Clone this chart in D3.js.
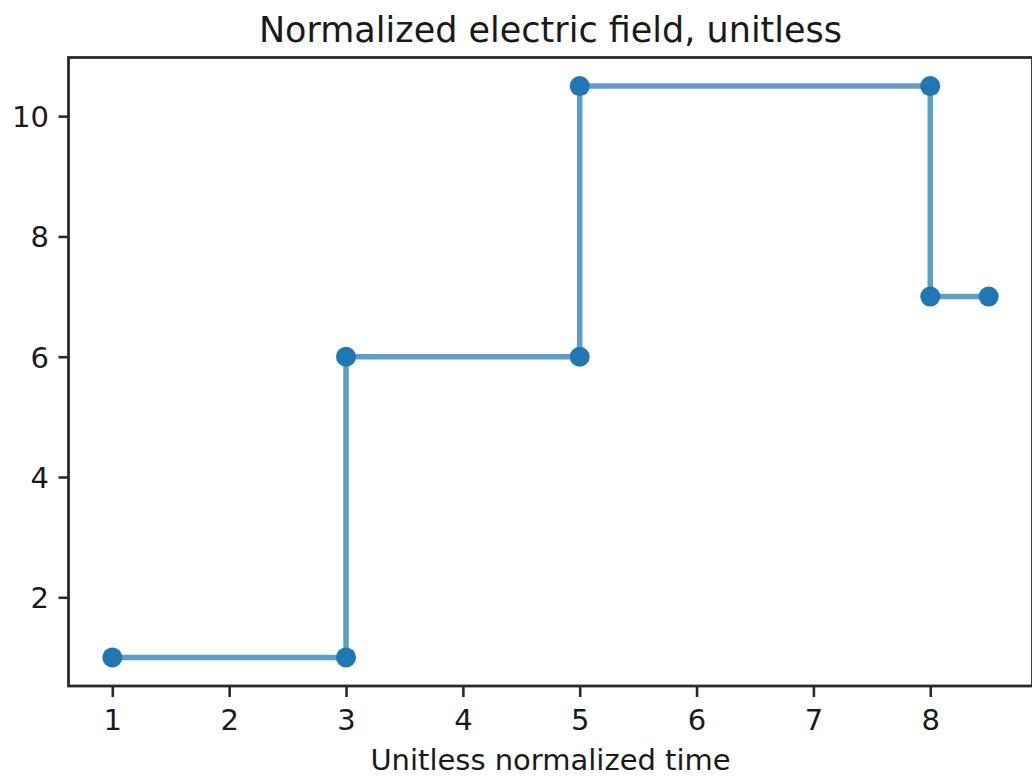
<!DOCTYPE html>
<html>
<head>
<meta charset="utf-8">
<script src="https://cdn.jsdelivr.net/npm/d3@7"></script>
<style>
  html, body { margin: 0; padding: 0; background: #fff; }
  svg { display: block; font-family: "DejaVu Sans", sans-serif; }
</style>
</head>
<body>
<svg id="chart" width="1032" height="776"></svg>
<script>
// Data
const xValues = [1, 3, 3, 5, 5, 8, 8, 8.5];
const yValues = [1, 1, 6, 6, 10.5, 10.5, 7, 7];
const xTicks = [1, 2, 3, 4, 5, 6, 7, 8];
const yTicks = [2, 4, 6, 8, 10];
const titleText = "Normalized electric field, unitless";
const xLabelText = "Unitless normalized time";

(function () {
const svg = d3.select("#chart");
const mLeft = 68.5, mRight = 1032.5, mTop = 57.5, mBottom = 686;

const x = d3.scaleLinear().domain([0.625, 8.875]).range([mLeft, mRight]);
const y = d3.scaleLinear().domain([0.525, 10.975]).range([mBottom, mTop]);

const data = xValues.map((v, i) => ({ x: v, y: yValues[i] }));

// line
const line = d3.line().x(d => x(d.x)).y(d => y(d.y));
svg.append("path")
  .datum(data)
  .attr("d", line)
  .attr("fill", "none")
  .attr("stroke", "#1f77b4")
  .attr("stroke-opacity", 0.72)
  .attr("stroke-width", 5.5)
  .attr("stroke-linejoin", "round")
  .attr("stroke-linecap", "butt");

// markers
svg.append("g").selectAll("circle")
  .data(data)
  .join("circle")
  .attr("cx", d => x(d.x))
  .attr("cy", d => y(d.y))
  .attr("r", 10)
  .attr("fill", "#1f77b4");

// axes
const xAxis = d3.axisBottom(x).tickValues(xTicks).tickSize(11).tickPadding(10).tickFormat(d3.format("d"));
const yAxis = d3.axisLeft(y).tickValues(yTicks).tickSize(10).tickPadding(10).tickFormat(d3.format("d"));

const gx = svg.append("g").attr("transform", `translate(0,${mBottom})`).call(xAxis);
const gy = svg.append("g").attr("transform", `translate(${mLeft},0)`).call(yAxis);

[gx, gy].forEach(g => {
  g.select(".domain").remove();
  g.selectAll(".tick line").attr("stroke", "#2b2b2b").attr("stroke-width", 2.6);
  g.selectAll(".tick text").attr("fill", "#1a1a1a").style("font-size", "29px").style("font-family", "DejaVu Sans");
});
gx.selectAll(".tick text").attr("dy", null).attr("y", 730 - mBottom);
gy.selectAll(".tick text").attr("dy", "0.36em").attr("x", -19.5);

// spines (right one falls just beyond the canvas)
svg.append("rect")
  .attr("x", mLeft).attr("y", mTop)
  .attr("width", mRight - mLeft).attr("height", mBottom - mTop)
  .attr("fill", "none")
  .attr("stroke", "#2b2b2b")
  .attr("stroke-width", 2.8);

// title
svg.append("text")
  .attr("x", (mLeft + mRight) / 2)
  .attr("y", 42)
  .attr("text-anchor", "middle")
  .attr("fill", "#1a1a1a")
  .style("font-size", "35px")
  .text(titleText);

// x label
svg.append("text")
  .attr("x", (mLeft + mRight) / 2)
  .attr("y", 770)
  .attr("text-anchor", "middle")
  .attr("fill", "#1a1a1a")
  .style("font-size", "29px")
  .text(xLabelText);
})();
</script>
</body>
</html>
